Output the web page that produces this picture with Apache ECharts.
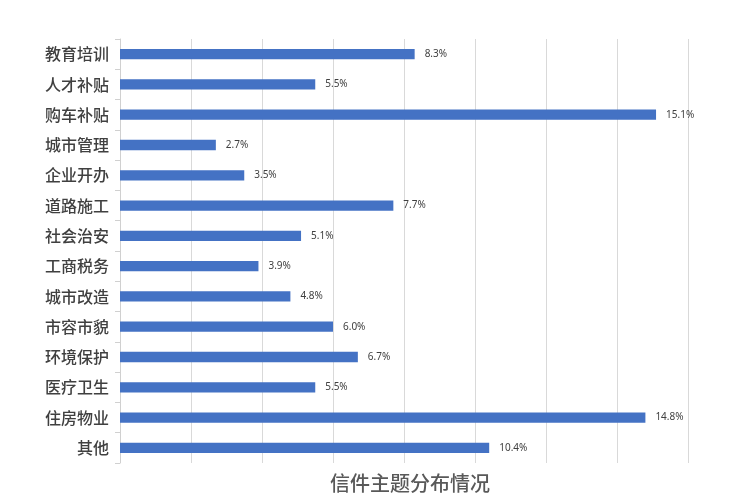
<!DOCTYPE html>
<html><head><meta charset="utf-8">
<script src="https://cdn.jsdelivr.net/npm/echarts@6/dist/echarts.min.js"></script>
<style>html,body{margin:0;padding:0;background:#fff}#c{width:740px;height:504px}</style>
</head><body><div id="c"></div>
<script>
var categories = ['教育培训','人才补贴','购车补贴','城市管理','企业开办','道路施工','社会治安','工商税务','城市改造','市容市貌','环境保护','医疗卫生','住房物业','其他'];
var values = [8.3,5.5,15.1,2.7,3.5,7.7,5.1,3.9,4.8,6.0,6.7,5.5,14.8,10.4];
var chartTitle = '信件主题分布情况';
var chart = echarts.init(document.getElementById('c'));
chart.setOption({
  animation:false,
  title:{text:chartTitle,left:405,textAlign:'center',top:468,textStyle:{fontFamily:'Noto Sans CJK SC',fontSize:20,fontWeight:500,color:'#595959'}},
  grid:{left:120,right:52,top:39,bottom:41,containLabel:false},
  xAxis:{type:'value',min:0,max:16,interval:2,axisLabel:{show:false},axisLine:{show:false},axisTick:{show:false},
    splitLine:{show:true,lineStyle:{color:'#d9d9d9',width:1}}},
  yAxis:{type:'category',data:categories,inverse:true,
    axisLine:{show:true,lineStyle:{color:'#d0d0d0'}},
    axisTick:{show:true,length:5,lineStyle:{color:'#d0d0d0'}},
    axisLabel:{fontFamily:'Noto Sans CJK SC',fontSize:16,fontWeight:500,color:'#404040',margin:11}},
  series:[{type:'bar',data:values,barCategoryGap:'66%',itemStyle:{color:'#4472C4'},
    label:{show:true,position:'right',distance:10,fontFamily:'Noto Sans',fontSize:10,color:'#404040',formatter:function(p){return p.value.toFixed(1)+'%';}}}]
});
</script></body></html>
